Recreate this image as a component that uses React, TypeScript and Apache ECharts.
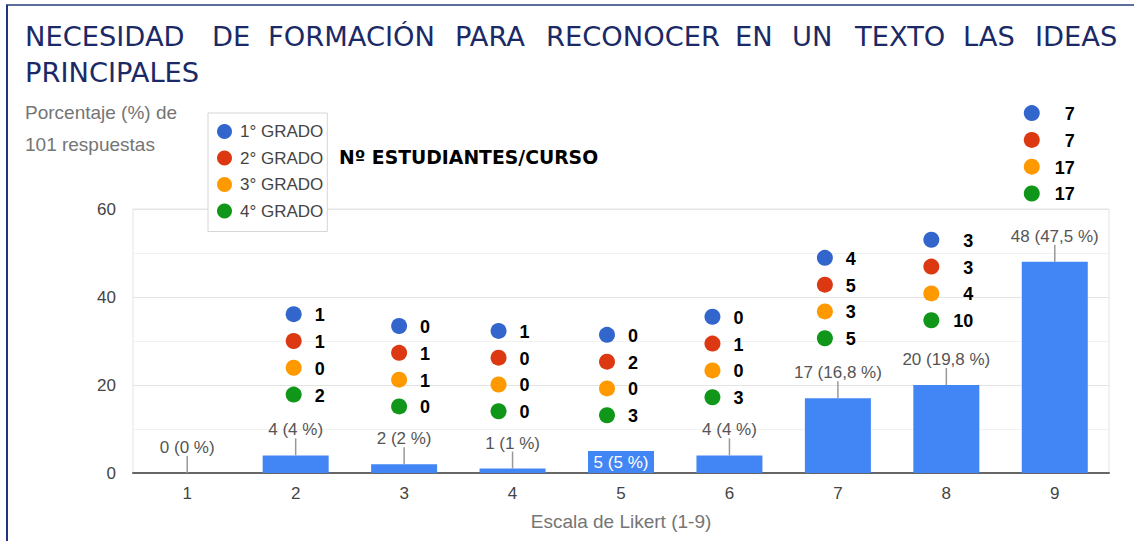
import React, { useEffect, useRef } from "react";
import * as echarts from "echarts";

// ---------- data ----------
const categories = ["1", "2", "3", "4", "5", "6", "7", "8", "9"];
const respuestas = [0, 4, 2, 1, 5, 4, 17, 20, 48];
const totalRespuestas = 101;
const gradoNames = ["1° GRADO", "2° GRADO", "3° GRADO", "4° GRADO"];
const grado1 = [null, 1, 0, 1, 0, 0, 4, 3, 7];
const grado2 = [null, 1, 1, 0, 2, 1, 5, 3, 7];
const grado3 = [null, 0, 1, 0, 0, 0, 3, 4, 17];
const grado4 = [null, 2, 0, 0, 3, 3, 5, 10, 17];
const yTicks = [0, 20, 40, 60];

const titleLine1 = ["NECESIDAD", "DE", "FORMACIÓN", "PARA", "RECONOCER", "EN", "UN", "TEXTO", "LAS", "IDEAS"];
const titleLine2 = ["PRINCIPALES"];
const yTitle = ["Porcentaje (%) de", "101 respuestas"];
const xTitle = "Escala de Likert (1-9)";
const noteText = "Nº ESTUDIANTES/CURSO";

// ---------- layout (not data) ----------
const TITLE1_X = [25, 212, 268, 455, 546, 735, 792, 855, 963, 1035];
const TITLE2_X = [25];
const ANNOT_TOP = [0, 36.1, 33.4, 32.3, 31.4, 35.5, 48.9, 53, 81.8]; // y-axis units of first dot
const ANNOT_DX = [0, -2, -5, -14, -14, -17, -13, -15, -23];
const ANNOT_NUM_RIGHT = [0, 31, 31, 31, 31, 31, 31, 42, 43];
const ANNOT_ROW = 26.8;
const INSIDE_LABEL = [4];
const GRADO_COLORS = ["#3366cc", "#dc3912", "#ff9900", "#109618"];

const ARIAL = '"Liberation Sans", Arial, sans-serif';
const VERDANA = '"DejaVu Sans", Verdana, sans-serif';

function pctText(v: number) {
  let s = ((v / totalRespuestas) * 100).toFixed(1);
  if (s.endsWith(".0")) s = s.slice(0, -2);
  return s.replace(".", ",");
}

export default function App() {
  const ref = useRef<HTMLDivElement>(null);
  useEffect(() => {
    if (!ref.current) return;
    const chart = echarts.init(ref.current, undefined, { renderer: "svg" });

    const grados = [grado1, grado2, grado3, grado4];

    const gradoSeries = grados.map((arr, g) => ({
      type: "custom",
      name: gradoNames[g],
      color: GRADO_COLORS[g],
      clip: false,
      z: 5,
      encode: { x: 0, y: 1 },
      data: arr
        .map((v, i) => (v == null ? null : [i, ANNOT_TOP[i], v]))
        .filter((d) => d != null),
      renderItem: (params: any, api: any) => {
        const i = api.value(0);
        const n = api.value(2);
        const p = api.coord([i, ANNOT_TOP[i]]);
        const cx = p[0] + ANNOT_DX[i];
        const cy = p[1] + g * ANNOT_ROW;
        return {
          type: "group",
          children: [
            { type: "circle", shape: { cx, cy, r: 8 }, style: { fill: GRADO_COLORS[g] } },
            {
              type: "text",
              style: {
                text: String(n),
                x: cx + ANNOT_NUM_RIGHT[i],
                y: cy + 1,
                align: "right",
                verticalAlign: "middle",
                fontFamily: ARIAL,
                fontWeight: "bold",
                fontSize: 18,
                fill: "#000",
              },
            },
          ],
        };
      },
    }));

    const graphics: any[] = [
      { type: "line", shape: { x1: 6, y1: 5, x2: 1134, y2: 5 }, style: { stroke: "#5b6f9c", lineWidth: 2 } },
      { type: "line", shape: { x1: 7, y1: 5, x2: 7, y2: 541 }, style: { stroke: "#1c3587", lineWidth: 2 } },
    ];
    titleLine1.forEach((w, k) =>
      graphics.push({
        type: "text",
        left: TITLE1_X[k],
        top: 23,
        style: { text: w, fontFamily: VERDANA, fontSize: 27.3, fill: "#1b2a66" },
      })
    );
    titleLine2.forEach((w, k) =>
      graphics.push({
        type: "text",
        left: TITLE2_X[k],
        top: 59,
        style: { text: w, fontFamily: VERDANA, fontSize: 27.3, fill: "#1b2a66" },
      })
    );
    yTitle.forEach((t, k) =>
      graphics.push({
        type: "text",
        left: 25,
        top: 103 + k * 32,
        style: { text: t, fontFamily: ARIAL, fontSize: 19, fill: "#757575" },
      })
    );
    graphics.push({
      type: "text",
      left: 339,
      top: 148,
      style: { text: noteText, fontFamily: VERDANA, fontWeight: "bold", fontSize: 18.8, fill: "#000" },
    });

    chart.setOption({
      animation: false,
      backgroundColor: "#fff",
      grid: {
        left: 133,
        right: 25,
        top: 209,
        bottom: 68,
        show: true,
        borderColor: "#e4e4e4",
        borderWidth: 1,
      },
      legend: {
        show: true,
        orient: "vertical",
        left: 208,
        top: 113,
        selectedMode: false,
        icon: "circle",
        itemWidth: 15,
        itemHeight: 15,
        itemGap: 9.5,
        padding: [10, 4, 12, 9],
        borderColor: "#d6d6d6",
        borderWidth: 1,
        backgroundColor: "#fff",
        textStyle: { fontFamily: ARIAL, fontSize: 17, color: "#444", padding: [0, 0, 0, 3] },
        data: gradoNames,
      },
      xAxis: {
        type: "category",
        data: categories,
        axisLine: { lineStyle: { color: "#666", width: 2 } },
        axisTick: { show: false },
        axisLabel: { fontFamily: ARIAL, fontSize: 17, color: "#444", margin: 12 },
        name: xTitle,
        nameLocation: "middle",
        nameGap: 39,
        nameTextStyle: { fontFamily: ARIAL, fontSize: 19, color: "#757575" },
      },
      yAxis: {
        type: "value",
        min: 0,
        max: 60,
        interval: 20,
        axisLine: { show: false },
        axisTick: { show: false },
        axisLabel: {
          fontFamily: ARIAL,
          fontSize: 17,
          color: "#444",
          margin: 17,
          formatter: (v: number) => (yTicks.includes(v) ? String(v) : ""),
        },
        splitLine: { lineStyle: { color: "#e4e4e4" } },
        minorTick: { show: false, splitNumber: 2 },
        minorSplitLine: { show: true, lineStyle: { color: "#f1f1f1" } },
      },
      series: [
        {
          type: "bar",
          name: "respuestas",
          barWidth: 66,
          itemStyle: { color: "#4285f4" },
          data: respuestas.map((v, i) =>
            INSIDE_LABEL.includes(i)
              ? { value: v, label: { position: "inside", color: "#fff" } }
              : v
          ),
          label: {
            show: true,
            position: "top",
            distance: 17,
            fontFamily: ARIAL,
            fontSize: 17,
            color: "#555",
            formatter: (p: any) => `${p.value} (${pctText(p.value)} %)`,
          },
        },
        {
          type: "custom",
          name: "guia",
          z: 3,
          encode: { x: 0, y: 1 },
          data: respuestas
            .map((v, i) => (INSIDE_LABEL.includes(i) ? null : [i, v]))
            .filter((d) => d != null),
          renderItem: (params: any, api: any) => {
            const p = api.coord([api.value(0), api.value(1)]);
            return {
              type: "line",
              shape: { x1: p[0], y1: p[1], x2: p[0], y2: p[1] - 17 },
              style: { stroke: "#999", lineWidth: 1.5 },
            };
          },
        },
        ...gradoSeries,
      ],
      graphic: graphics,
    });
    return () => chart.dispose();
  }, []);
  return (
    <div
      ref={ref}
      style={{ position: "absolute", left: 0, top: 0, width: 1134, height: 541, background: "#fff" }}
    />
  );
}
